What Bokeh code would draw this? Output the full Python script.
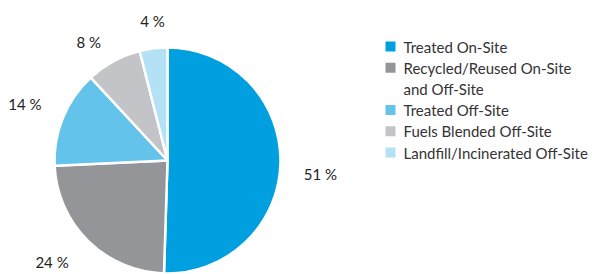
import math
from bokeh.plotting import figure
from bokeh.models import Range1d, ColumnDataSource
from bokeh.core.properties import value
from bokeh.embed import file_html
from bokeh.resources import INLINE

categories = ["Treated On-Site", "Recycled/Reused On-Site\nand Off-Site", "Treated Off-Site",
              "Fuels Blended Off-Site", "Landfill/Incinerated Off-Site"]
values = [51, 24, 14, 8, 4]
pct_labels = ["51 %", "24 %", "14 %", "8 %", "4 %"]
colors = ["#009fdf", "#939598", "#63c3eb", "#c3c4c7", "#b4e1f5"]

W, H = 592, 274
FONT = "Lato"
cx, cy, R = 167, 114, 113
label_r = [156, 156, 153, 142, 141]
label_dx = [-3, -6, -1, -11, 2.5]
label_dy = [-11, 9.5, -2, -6, 0]

p = figure(width=W, height=H, x_range=Range1d(0, W), y_range=Range1d(0, H),
           output_backend="svg", toolbar_location=None, min_border=0)
p.axis.visible = False
p.grid.visible = False
p.outline_line_color = None
p.background_fill_color = "white"

total = sum(values)
starts, ends, lx, ly = [], [], [], []
cum = 0.0
for v, r, dx, dy in zip(values, label_r, label_dx, label_dy):
    a0 = math.pi / 2 - 2 * math.pi * cum / total
    a1 = math.pi / 2 - 2 * math.pi * (cum + v) / total
    mid = (a0 + a1) / 2
    starts.append(a0)
    ends.append(a1)
    lx.append(cx + r * math.cos(mid) + dx)
    ly.append(cy + r * math.sin(mid) + dy)
    cum += v

src = ColumnDataSource(dict(start=starts, end=ends, color=colors))
p.wedge(x=cx, y=cy, radius=R, start_angle="start", end_angle="end", direction="clock",
        fill_color="color", line_color="white", line_width=2.5, source=src)

p.text(x=lx, y=ly, text=pct_labels, text_align="center", text_baseline="middle",
       text_font=value(FONT), text_font_size="15px", text_color="#222222")

# legend
row_h = 21.2
top_y = 228
sq_x, txt_x = 390, 403
sq_xs, sq_ys, t_xs, t_ys, t_txt = [], [], [], [], []
y = top_y
for cat in categories:
    lines = cat.split("\n")
    sq_xs.append(sq_x)
    sq_ys.append(y)
    for ln in lines:
        t_xs.append(txt_x)
        t_ys.append(y)
        t_txt.append(ln)
        y -= row_h
p.rect(x=sq_xs, y=sq_ys, width=10, height=10, fill_color=colors, line_color=None)
p.text(x=t_xs, y=t_ys, text=t_txt, text_align="left", text_baseline="middle",
       text_font=value(FONT), text_font_size="15px", text_color="#333333")

open("out.html", "w").write(file_html(p, INLINE))
